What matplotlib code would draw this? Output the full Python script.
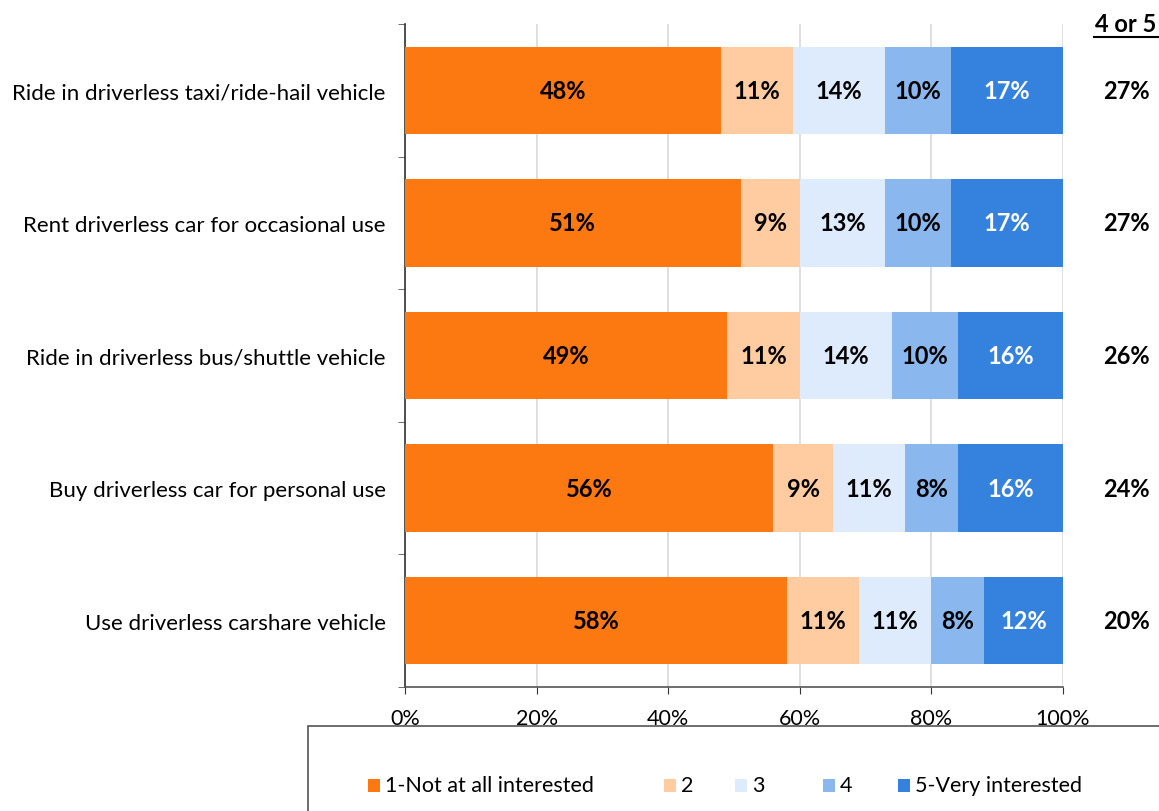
import matplotlib
matplotlib.use("Agg")
import matplotlib.pyplot as plt
from matplotlib.lines import Line2D
from matplotlib.patches import Rectangle
import numpy as np

plt.rcParams['font.family'] = ['Lato', 'DejaVu Sans']

categories = [
    "Ride in driverless taxi/ride-hail vehicle",
    "Rent driverless car for occasional use",
    "Ride in driverless bus/shuttle vehicle",
    "Buy driverless car for personal use",
    "Use driverless carshare vehicle",
]
series_names = ["1-Not at all interested", "2", "3", "4", "5-Very interested"]
s1 = [48, 51, 49, 56, 58]
s2 = [11, 9, 11, 9, 11]
s3 = [14, 13, 14, 11, 11]
s4 = [10, 10, 10, 8, 8]
s5 = [17, 17, 16, 16, 12]
top2 = ["27%", "27%", "26%", "24%", "20%"]
xticks = [0, 20, 40, 60, 80, 100]
xtick_labels = ["0%", "20%", "40%", "60%", "80%", "100%"]

colors = ["#FC7811", "#FFCBA0", "#DDEBFC", "#8AB8EE", "#3482DE"]
text_colors = ["black", "black", "black", "black", "white"]

W, H = 1159, 812
fig = plt.figure(figsize=(W / 100, H / 100), dpi=100)
ax = fig.add_axes([405 / W, 1 - 688 / H, (1063 - 405) / W, (688 - 25) / H])

VAL_FS = 17
LAB_FS = 15.5
CAT_FS = 16

y = np.arange(len(categories))
left = np.zeros(len(categories))
for vals, col, tc, name in zip([s1, s2, s3, s4, s5], colors, text_colors, series_names):
    vals = np.array(vals, dtype=float)
    ax.barh(y, vals, left=left, height=0.66, color=col, label=name, zorder=3)
    for yi, l, v in zip(y, left, vals):
        ax.text(l + v / 2, yi, f"{int(v)}%", ha="center", va="center",
                fontsize=VAL_FS, fontweight="bold", color=tc, zorder=4)
    left = left + vals

ax.set_xlim(0, 100)
ax.set_ylim(len(categories) - 0.5, -0.5)
ax.set_yticks(y)
ax.set_yticklabels(categories, fontsize=CAT_FS)
ax.set_yticks(np.arange(-0.5, len(categories)), minor=True)
ax.tick_params(axis="y", which="major", length=0, pad=14)
ax.tick_params(axis="y", which="minor", length=5, direction="out", color="#555555")
ax.set_xticks(xticks)
ax.set_xticklabels(xtick_labels, fontsize=LAB_FS)
ax.tick_params(axis="x", length=5, direction="out", color="#333333", pad=10)
ax.grid(axis="x", color="#D9D9D9", linewidth=1.2, zorder=0)
for s in ["top", "right"]:
    ax.spines[s].set_visible(False)
ax.spines["left"].set_color("#333333")
ax.spines["bottom"].set_color("#555555")
ax.spines["left"].set_linewidth(1.2)
ax.spines["bottom"].set_linewidth(1.2)

# right-hand "4 or 5" column
fig.text(1095 / W, 1 - 24 / H, "4 or 5", ha="left", va="center",
         fontsize=VAL_FS, fontweight="bold")
fig.add_artist(Line2D([1094 / W, 1159 / W], [1 - 38 / H, 1 - 38 / H],
                      color="black", linewidth=1.5, transform=fig.transFigure))
for yi, t in zip(y, top2):
    yd = ax.transData.transform((0, yi))[1]
    fig.text(1126 / W, yd / H, t, ha="center", va="center", fontsize=VAL_FS, fontweight="bold")

# legend box
fig.add_artist(Rectangle((308 / W, -0.01), (W - 308) / W + 0.01, (812 - 727) / H + 0.01,
                         transform=fig.transFigure, facecolor="white",
                         edgecolor="#555555", linewidth=1.2, clip_on=False))
leg_x = [368, 664, 735, 823, 898]
for lx, col, name in zip(leg_x, colors, series_names):
    fig.add_artist(Rectangle((lx / W, 1 - 793 / H), 12 / W, 13 / H,
                             transform=fig.transFigure, facecolor=col, edgecolor="none"))
    fig.text((lx + 17) / W, 1 - 786 / H, name, ha="left", va="center", fontsize=LAB_FS)

fig.savefig("out.png", dpi=100)
